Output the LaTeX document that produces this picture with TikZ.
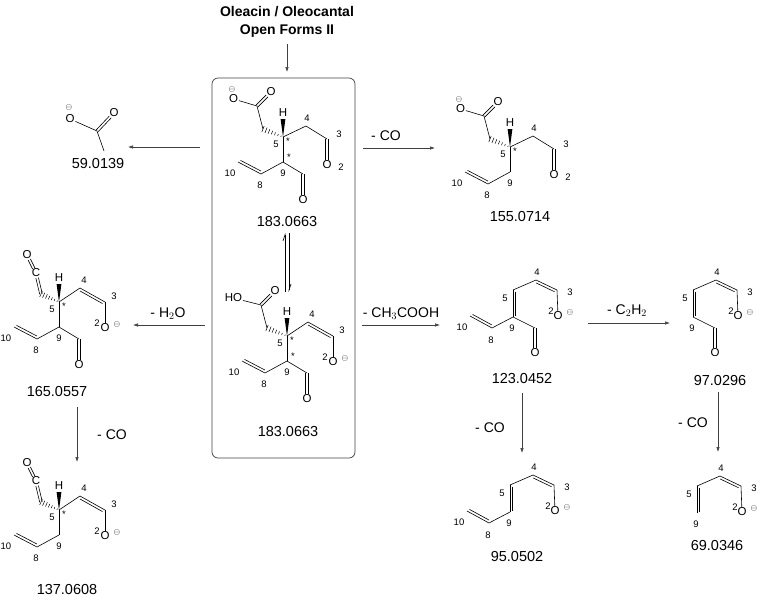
\documentclass[tikz,border=0pt]{standalone}
\usepackage{fontspec}
\setmainfont{Liberation Sans}
\usetikzlibrary{calc,arrows.meta}
\tikzset{
  bond/.style={line width=0.6pt},
  lab/.style={font=\fontsize{11.5}{11.5}\selectfont, inner sep=0.8pt},
  loc/.style={font=\fontsize{9.5}{9.5}\selectfont, inner sep=0pt},
  mass/.style={font=\fontsize{14.5}{14.5}\selectfont, inner sep=0pt},
  rxn/.style={font=\fontsize{14}{14}\selectfont, inner sep=0pt},
  rarrow/.style={line width=0.6pt, draw=black!75, -{Latex[length=5pt,width=3.5pt]}},
}
\newcommand\bd[2]{\draw[bond] (#1) -- (#2);}
\newcommand\dbL[2]{\draw[bond] (#1) -- (#2);
  \draw[bond,shorten <=1.5pt,shorten >=1.5pt] ($(#1)!2.6pt!90:(#2)$) -- ($(#2)!2.6pt!-90:(#1)$);}
\newcommand\dbR[2]{\draw[bond] (#1) -- (#2);
  \draw[bond,shorten <=1.5pt,shorten >=1.5pt] ($(#1)!2.6pt!-90:(#2)$) -- ($(#2)!2.6pt!90:(#1)$);}
\newcommand\dbO[2]{%
  \draw[bond,shorten >=5.5pt] ($(#1)!1.3pt!90:(#2.center)$) -- ($(#2.center)!1.3pt!-90:(#1)$);
  \draw[bond,shorten >=5.5pt] ($(#1)!1.3pt!-90:(#2.center)$) -- ($(#2.center)!1.3pt!90:(#1)$);}
\newcommand\dbOO[2]{%
  \draw[bond,shorten >=5pt,shorten <=5pt] ($(#1.center)!1.3pt!90:(#2.center)$) -- ($(#2.center)!1.3pt!-90:(#1.center)$);
  \draw[bond,shorten >=5pt,shorten <=5pt] ($(#1.center)!1.3pt!-90:(#2.center)$) -- ($(#2.center)!1.3pt!90:(#1.center)$);}
\newcommand\hashb[2]{\foreach \s in {0,0.15,...,0.9}{%
  \pgfmathsetmacro\hl{2.8*(1-\s)+0.4}%
  \draw[line width=0.5pt] ($(#1)!\s!(#2)!\hl pt!90:(#2)$) -- ($(#1)!\s!(#2)!\hl pt!-90:(#2)$);}}
\newcommand\minus[2]{\node[font=\fontsize{8.5}{8.5}\selectfont,inner sep=0pt] at (#1,#2) {$\ominus$};}
\newcommand\hwedge{\coordinate (hb) at (0,-18);
  \fill (0,0) -- ($(hb)+(2.4,0)$) -- ($(hb)+(-2.4,0)$) -- cycle;
  \node[lab] (hh) at (0,-24) {H};}
\newcommand\carbox[1]{\coordinate (ch2) at (-20,-8); \coordinate (cc) at (-26,-31);
  \node[lab] (oe) at (-12,-45) {O}; \node[lab,anchor=east] (ol) at (-44,-38) {#1};
  \hashb{ch2}{c5}\bd{ch2}{cc}\draw[bond] (cc) -- (ol); \dbO{cc}{oe}}
\newcommand\ketene{\coordinate (ch2) at (-18,-8);
  \node[lab] (ck) at (-23,-29) {C}; \node[lab] (ok) at (-32,-47) {O};
  \hashb{ch2}{c5}
  \draw[bond,shorten >=5pt] ($(ch2)!1.3pt!90:(ck.center)$) -- ($(ck.center)!1.3pt!-90:(ch2)$);
  \draw[bond,shorten >=5pt] ($(ch2)!1.3pt!-90:(ck.center)$) -- ($(ck.center)!1.3pt!90:(ch2)$);
  \dbOO{ck}{ok}}
\newcommand\vinyl{\coordinate (c9) at (0,25); \coordinate (c8) at (-22,37); \coordinate (c10) at (-45,25);
  \bd{c5}{c9}\bd{c9}{c8}\dbR{c8}{c10}
  \node[loc] at (0,36) {9}; \node[loc] at (-23,48) {8}; \node[loc] at (-53,36) {10};}
\newcommand\cho{\coordinate (cal) at (20,37); \node[lab] (oal) at (20,63) {O}; \bd{c9}{cal}\dbO{cal}{oal}}
\newcommand\aldend{\coordinate (c4) at (23,-11); \coordinate (c3) at (44,2); \node[lab] (o3) at (44,28) {O};
  \bd{c5}{c4}\bd{c4}{c3}\dbO{c3}{o3}
  \node[loc] at (24,-19) {4}; \node[loc] at (56,-3) {3}; \node[loc] at (58,30) {2};}
\newcommand\enolend{\coordinate (c4) at (21,-14); \coordinate (c3) at (46,0); \node[lab] (o3) at (46,26) {O};
  \bd{c5}{c4}\dbR{c4}{c3}\bd{c3}{o3}
  \node[loc] at (25,-22) {4}; \node[loc] at (55,-6) {3}; \node[loc] at (38,21) {2}; \minus{58}{22}}
\newcommand\fivestar{\node[loc] at (-7,7) {5}; \node[loc] at (5,4) {*};}
\newcommand\dienyl{\coordinate (c9) at (0,27); \coordinate (c4) at (23,-10); \coordinate (c3) at (44,0);
  \node[lab] (o3) at (45,26) {O};
  \dbL{c5}{c9}\bd{c5}{c4}\dbR{c4}{c3}\bd{c3}{o3}
  \node[loc] at (-8,8) {5}; \node[loc] at (-1,38) {9}; \node[loc] at (24,-18) {4};
  \node[loc] at (57,2) {3}; \node[loc] at (38,21) {2}; \minus{57}{22}}
\newcommand\dvinyl{\coordinate (c8) at (-21,38); \coordinate (c10) at (-43,26);
  \bd{c9}{c8}\dbR{c8}{c10}\node[loc] at (-22,50) {8}; \node[loc] at (-51,37) {10};}
\newcommand\dcho{\coordinate (cal) at (22,38); \node[lab] (oal) at (22,63) {O}; \bd{c9}{cal}\dbO{cal}{oal}}
\begin{document}
\begin{tikzpicture}[x=1pt,y=-1pt]
\useasboundingbox (0,0) rectangle (761,606);
\node[font=\bfseries\fontsize{14}{18}\selectfont, align=center] (title) at (287,22) {Oleacin / Oleocantal\\Open Forms II};
\node[draw, rounded corners=6pt, line width=0.7pt, black!75, minimum width=143pt, minimum height=380pt, inner sep=0pt] (box) at (283.5,268) {};
\coordinate (t1) at (287,44); \coordinate (t2) at (287,72);
\draw[rarrow] (t1) -- (t2);
\begin{scope}[shift={(283,137)}]
\coordinate (c5) at (0,0);
\carbox{O}\minus{-51}{-48}\hwedge\aldend\vinyl\cho\fivestar\node[loc] at (6,20) {*};
\end{scope}
\node[mass] (m1) at (287,222) {183.0663};
\coordinate (e1) at (285,292); \coordinate (e2) at (285,233);
\coordinate (e3) at (289,233); \coordinate (e4) at (289,292);
\draw[line width=0.6pt,-{Straight Barb[left,length=6pt,width=4pt]}] (e1) -- (e2);
\draw[line width=0.6pt,-{Straight Barb[left,length=6pt,width=4pt]}] (e3) -- (e4);
\begin{scope}[shift={(287,336)}]
\coordinate (c5) at (0,0);
\carbox{HO}\hwedge\enolend\vinyl\cho\fivestar\node[loc] at (6,20) {*};
\end{scope}
\node[mass] (m2) at (288,432) {183.0663};
\node[lab] (ao) at (70,119) {O}; \minus{69}{107}
\coordinate (ac) at (97,131); \node[lab] (ao2) at (114,113) {O}; \coordinate (ame) at (104,151);
\draw[bond] (ao) -- (ac); \dbO{ac}{ao2} \bd{ac}{ame}
\node[mass] (m3) at (98,164) {59.0139};
\coordinate (a1) at (200,147); \coordinate (a2) at (128,147);
\draw[rarrow] (a1) -- (a2);
\coordinate (b1) at (363,148); \coordinate (b2) at (435,148);
\draw[rarrow] (b1) -- (b2); \node[rxn] at (386,136) {- CO};
\begin{scope}[shift={(510,147)}]
\coordinate (c5) at (0,0);
\carbox{O}\minus{-51}{-48}\hwedge\aldend\vinyl\fivestar
\end{scope}
\node[mass] (m4) at (520,217) {155.0714};
\coordinate (h1) at (205,325); \coordinate (h2) at (133,325);
\draw[rarrow] (h1) -- (h2); \node[rxn] at (168,314) {- H$_2$O};
\begin{scope}[shift={(59,302)}]
\coordinate (c5) at (0,0);
\ketene\hwedge\enolend\vinyl\cho\fivestar
\end{scope}
\node[mass] (m5) at (57,392) {165.0557};
\coordinate (k1) at (77,407); \coordinate (k2) at (77,462);
\draw[rarrow] (k1) -- (k2); \node[rxn] at (112,435) {- CO};
\begin{scope}[shift={(59,510)}]
\coordinate (c5) at (0,0);
\ketene\hwedge\enolend\vinyl\fivestar
\end{scope}
\node[mass] (m6) at (67,589) {137.0608};
\coordinate (g1) at (362,325); \coordinate (g2) at (440,325);
\draw[rarrow] (g1) -- (g2); \node[rxn] at (401,314) {- CH$_3$COOH};
\begin{scope}[shift={(513,290)}]
\coordinate (c5) at (0,0);
\dienyl\dvinyl\dcho
\end{scope}
\node[mass] (m7) at (522,379) {123.0452};
\coordinate (j1) at (588,323); \coordinate (j2) at (670,323);
\draw[rarrow] (j1) -- (j2); \node[rxn] at (627,311) {- C$_2$H$_2$};
\begin{scope}[shift={(693,290)}]
\coordinate (c5) at (0,0);
\dienyl\dcho
\end{scope}
\node[mass] (m8) at (720,381) {97.0296};
\coordinate (l1) at (522,393); \coordinate (l2) at (522,453);
\draw[rarrow] (l1) -- (l2); \node[rxn] at (490,428) {- CO};
\coordinate (n1) at (718,392); \coordinate (n2) at (718,452);
\draw[rarrow] (n1) -- (n2); \node[rxn] at (693,423) {- CO};
\begin{scope}[shift={(510,485)}]
\coordinate (c5) at (0,0);
\dienyl\dvinyl
\end{scope}
\node[mass] (m9) at (517,556) {95.0502};
\begin{scope}[shift={(697,486)}]
\coordinate (c5) at (0,0);
\dienyl
\end{scope}
\node[mass] (m10) at (717,545) {69.0346};
\end{tikzpicture}
\end{document}
